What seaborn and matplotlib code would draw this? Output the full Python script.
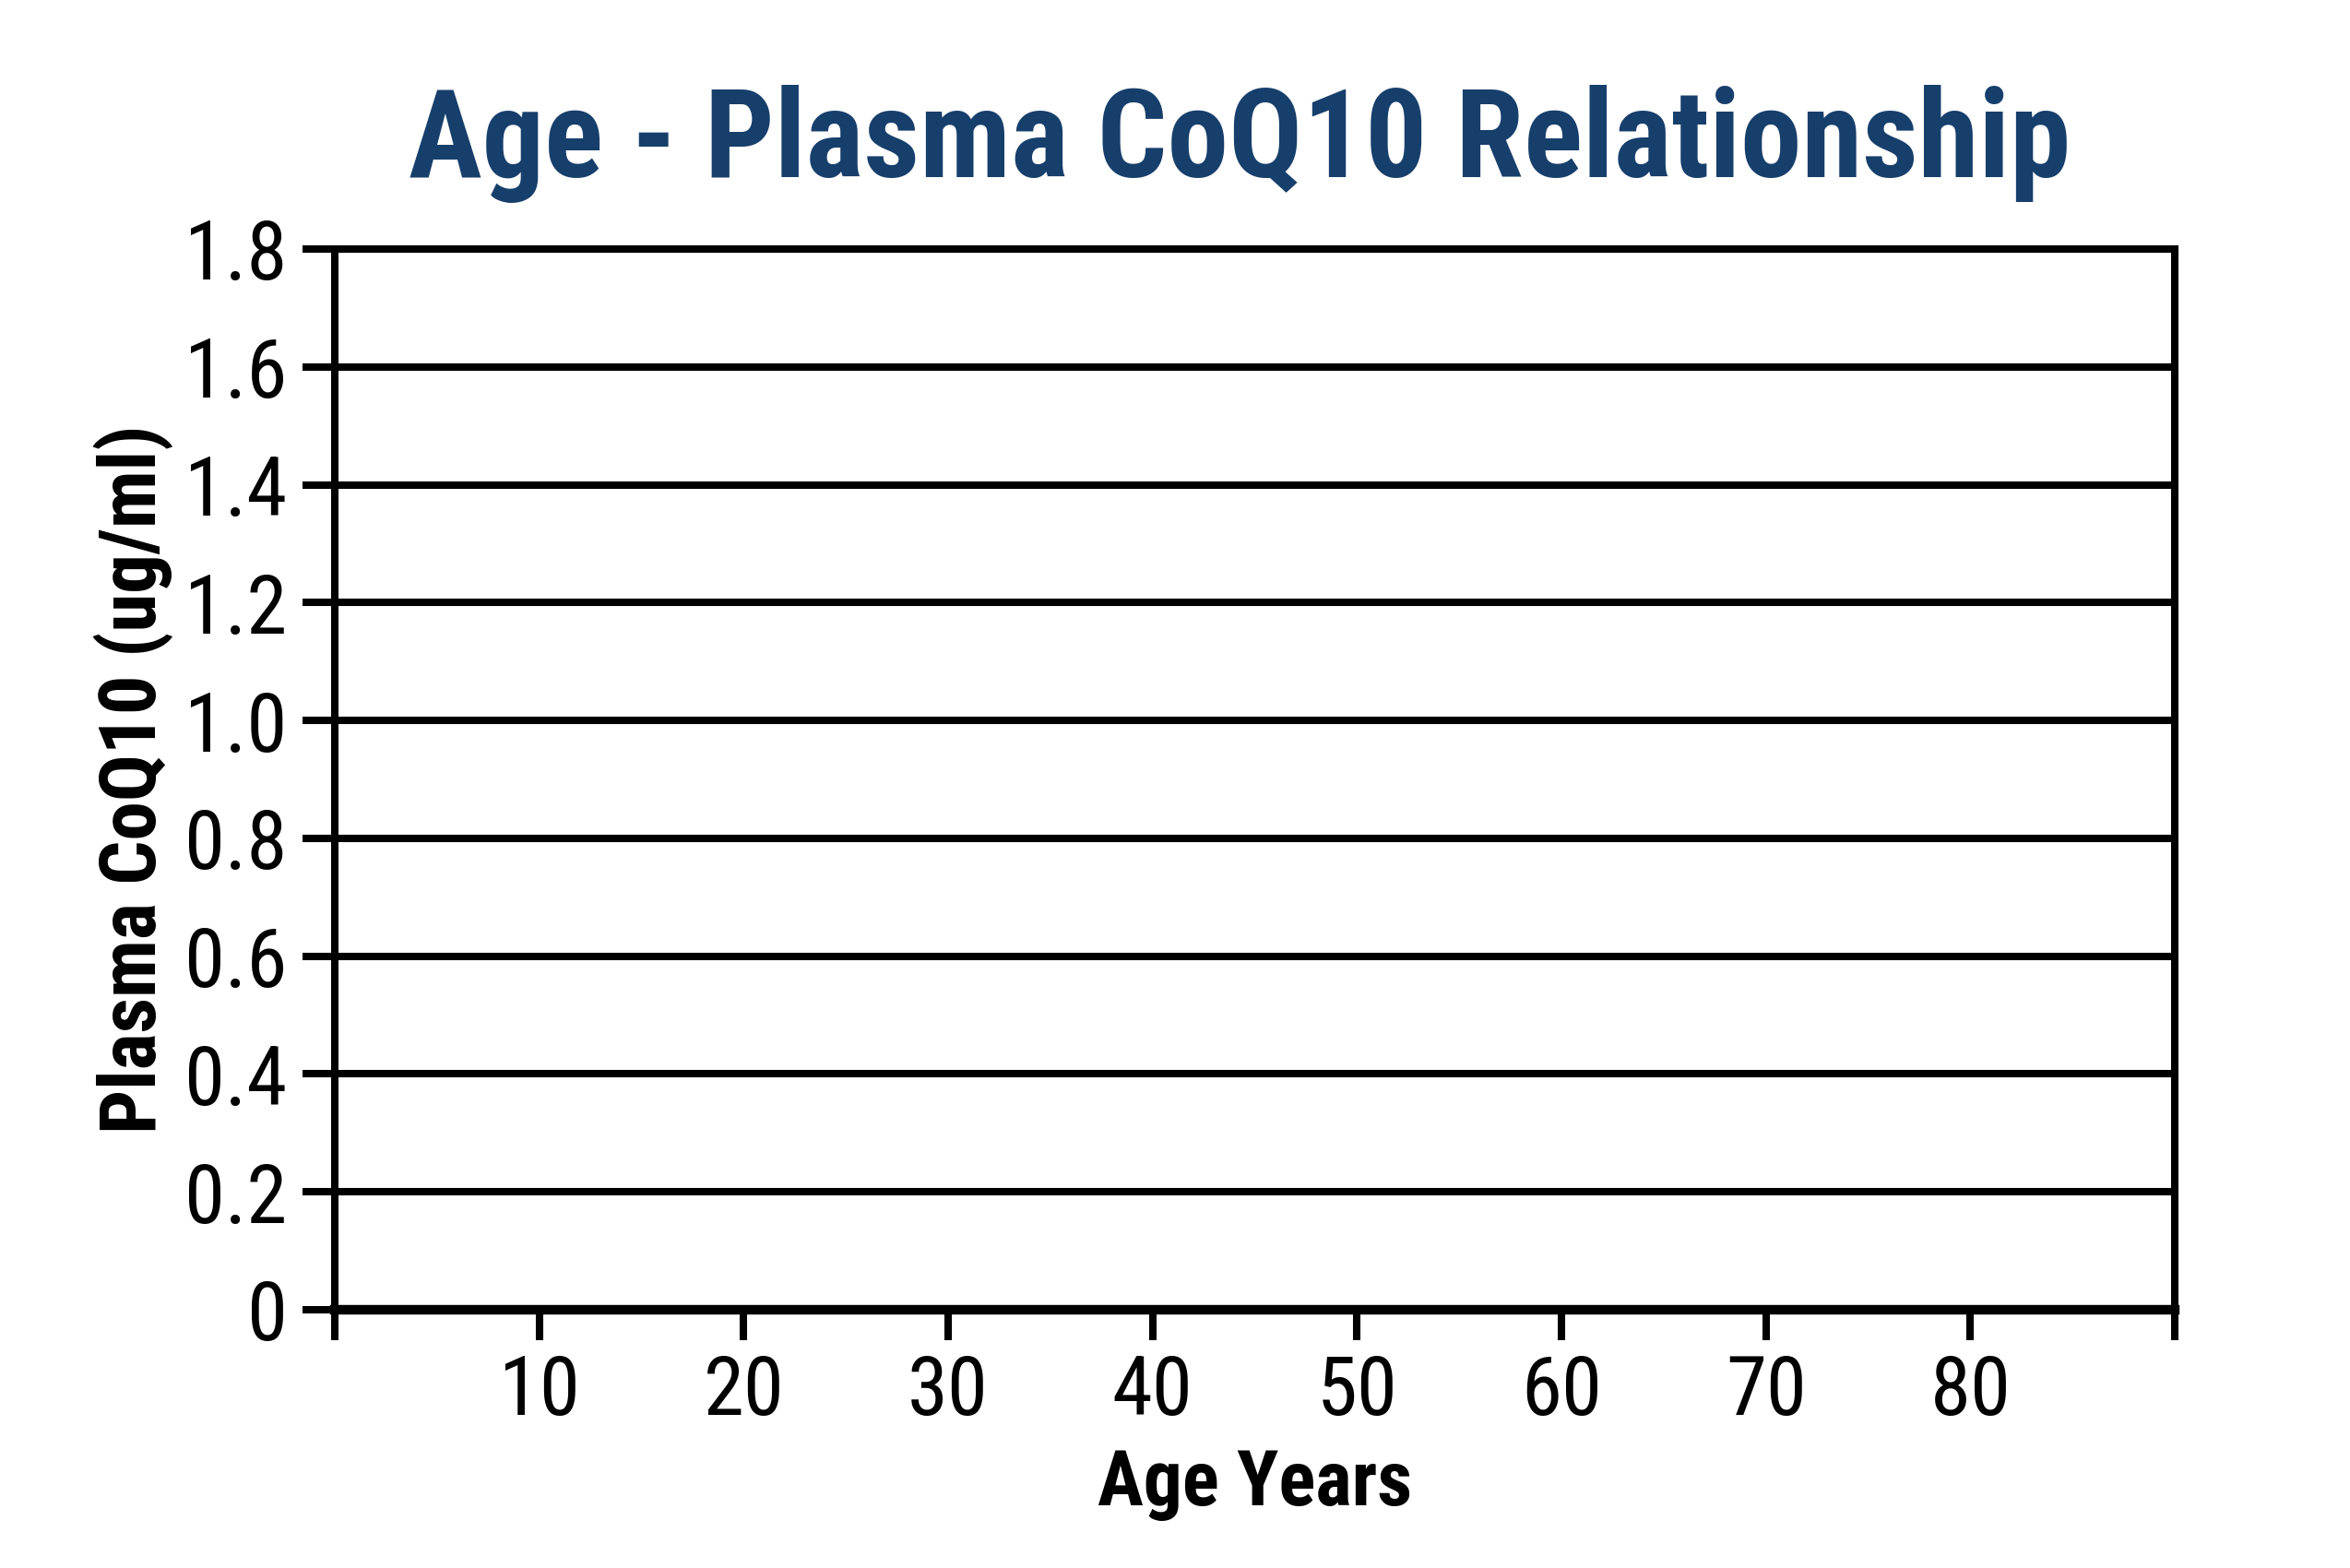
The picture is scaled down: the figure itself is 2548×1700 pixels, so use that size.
import matplotlib
matplotlib.use("Agg")
import matplotlib.pyplot as plt
import seaborn as sns
import pandas as pd
import numpy as np

# Data (the reference chart is an empty template: no data points)
ages = []
coq10_values = []
x_ticks = [0, 10, 20, 30, 40, 50, 60, 70, 80, 90]
x_tick_labels = ["", "10", "20", "30", "40", "50", "60", "70", "80", ""]
y_ticks = [0, 0.2, 0.4, 0.6, 0.8, 1.0, 1.2, 1.4, 1.6, 1.8]
y_tick_labels = ["0", "0.2", "0.4", "0.6", "0.8", "1.0", "1.2", "1.4", "1.6", "1.8"]
title = "Age - Plasma CoQ10 Relationship"
x_label = "Age Years"
y_label = "Plasma CoQ10 (ug/ml)"

sns.set_theme(style="white")
fam = ["Liberation Sans Narrow", "Roboto Condensed", "Liberation Sans", "DejaVu Sans"]
plt.rcParams["font.family"] = fam

fig = plt.figure(figsize=(25.48, 17), dpi=100)
ax = fig.add_axes([363/2548, 1 - 1420/1700, (2358-363)/2548, (1420-270)/1700])

df = pd.DataFrame({"age": pd.Series(ages, dtype=float), "coq10": pd.Series(coq10_values, dtype=float)})
sns.scatterplot(data=df, x="age", y="coq10", ax=ax)

ax.set_xlim(0, 90)
ax.set_ylim(0, 1.8)
ax.set_xticks(x_ticks)
ax.set_xticklabels(x_tick_labels)
ax.set_yticks(y_ticks)
ax.set_yticklabels(y_tick_labels)

lw = 5.8
ax.yaxis.grid(True, color="black", linewidth=lw)
ax.xaxis.grid(False)
for name, sp in ax.spines.items():
    sp.set_visible(True)
    sp.set_color("black")
    sp.set_linewidth(lw)
ax.spines["bottom"].set_linewidth(7.5)

ax.tick_params(axis="y", direction="out", length=25, width=lw, color="black",
               labelsize=64, pad=12, labelcolor="black", left=True)
ax.tick_params(axis="x", direction="out", length=24, width=lw, color="black",
               labelsize=64, pad=10, labelcolor="black", bottom=True)

ax.set_xlabel(x_label, fontsize=60, fontweight="bold", color="black", labelpad=13)
ax.set_ylabel(y_label, fontsize=61, fontweight="bold", color="black", labelpad=9)

fig.text(1344/2548, 1 - 192/1700, title, ha="center", va="baseline",
         fontsize=96, fontweight="bold", color="#173f6c")

fig.savefig("out.png", dpi=100, facecolor="white")
